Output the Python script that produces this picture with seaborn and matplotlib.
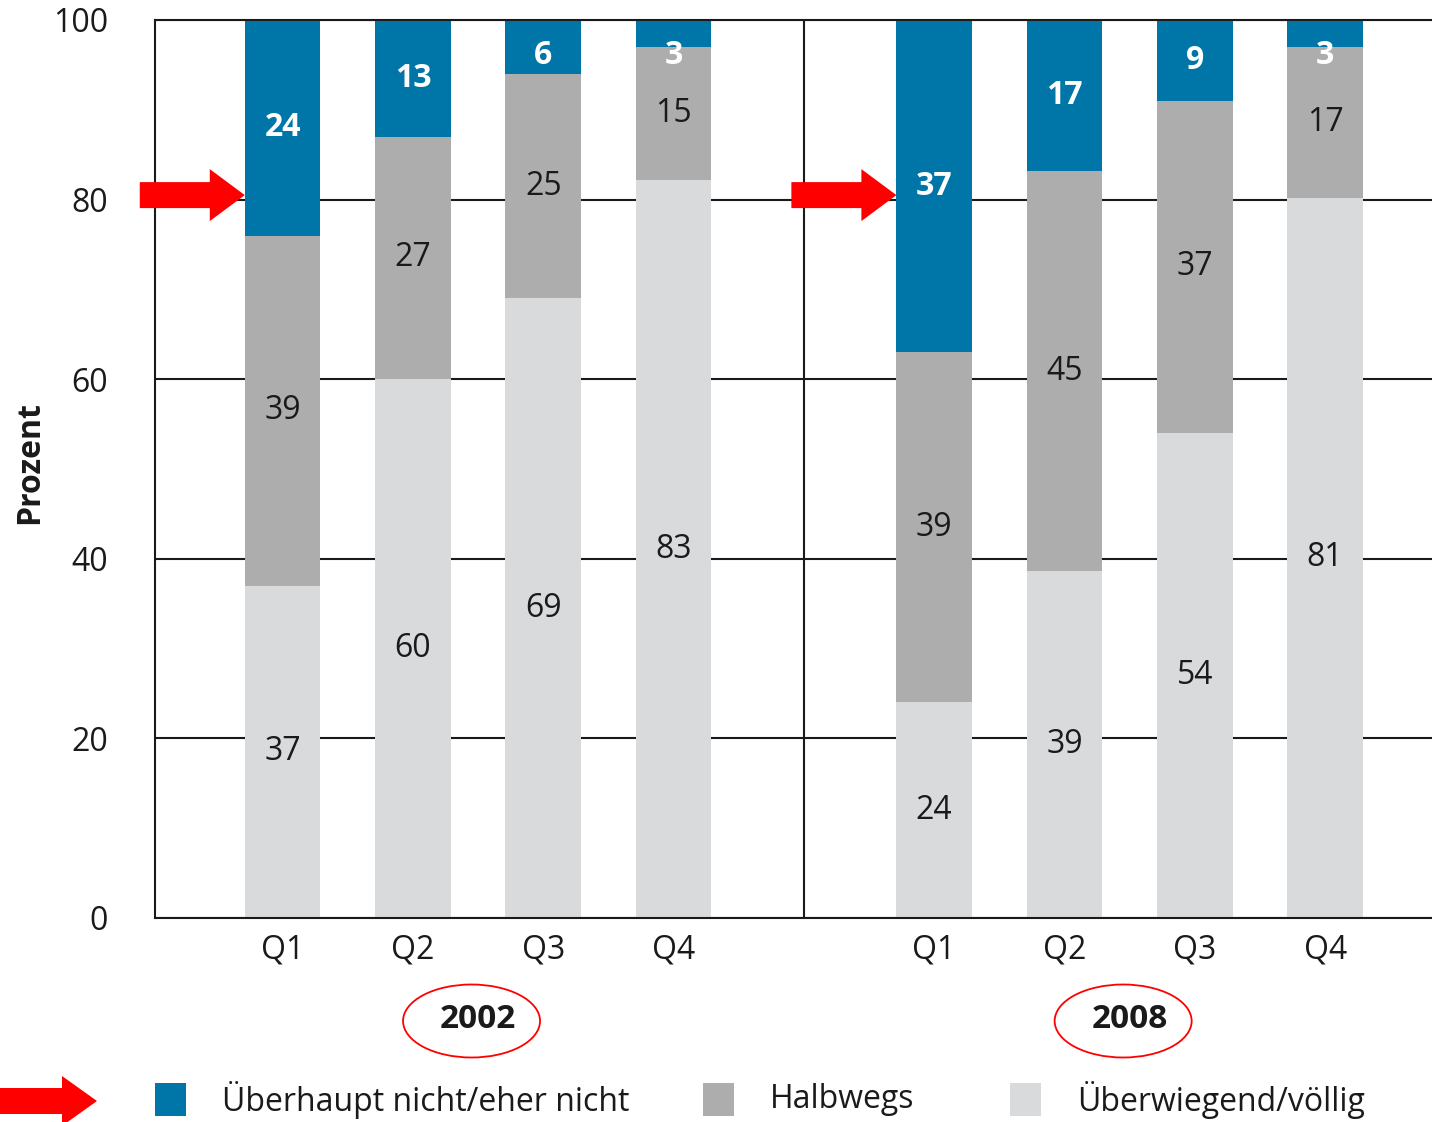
import numpy as np
import pandas as pd
import seaborn as sns
import matplotlib
matplotlib.use("Agg")
import matplotlib.pyplot as plt
from matplotlib.patches import Ellipse, FancyArrow, Rectangle
from matplotlib.transforms import blended_transform_factory

# ---------------- data ----------------
years = ["2002", "2008"]
quarters = ["Q1", "Q2", "Q3", "Q4"]
series_labels = ["Überhaupt nicht/eher nicht", "Halbwegs", "Überwiegend/völlig"]
nicht = [24, 13, 6, 3, 37, 17, 9, 3]          # Überhaupt nicht/eher nicht
halbwegs = [39, 27, 25, 15, 39, 45, 37, 17]   # Halbwegs
voellig = [37, 60, 69, 83, 24, 39, 54, 81]    # Überwiegend/völlig
y_ticks = [0, 20, 40, 60, 80, 100]
y_label = "Prozent"

# ---------------- style ----------------
sns.set_style("white")
plt.rcParams["font.family"] = ["Open Sans", "DejaVu Sans"]
TXT = "#1a1a1a"
BLUE = "#0076a8"
MID = "#adadad"
LIGHT = "#d9dadb"
RED = "#ff0000"
LW = 1.5

W, H = 1432, 1122
fig = plt.figure(figsize=(W / 100, H / 100), dpi=100)
ax = fig.add_axes([155 / W, 1 - 918 / H, 1 - 155 / W, (918 - 20) / H])

# positions: four quarters per year, one empty slot between years
n_q = len(quarters)
pos = [i + i // n_q for i in range(len(nicht))]
df = pd.DataFrame({"pos": pos, "v": voellig, "h": halbwegs, "n": nicht})
tot = df["v"] + df["h"] + df["n"]
# stacked shares, scaled to 100 % per bar (rounded values may sum to 101)
df["c1"] = df["v"] / tot * 100
df["c2"] = (df["v"] + df["h"]) / tot * 100
df["c3"] = (df["v"] + df["h"] + df["n"]) / tot * 100

bw = 0.58
for col, colr in [("c3", BLUE), ("c2", MID), ("c1", LIGHT)]:
    sns.barplot(data=df, x="pos", y=col, native_scale=True, color=colr,
                saturation=1, width=bw, errorbar=None, ax=ax,
                edgecolor="none", linewidth=0)

ax.set_xlim(-0.979, 8.82)
ax.set_ylim(0, 100)
ax.set_xlabel("")
ax.set_ylabel("")

# grid & spines
ax.set_axisbelow(True)
ax.yaxis.grid(True, color=TXT, lw=LW)
ax.xaxis.grid(False)
for s in ["left", "top", "bottom"]:
    ax.spines[s].set_visible(True)
    ax.spines[s].set_color(TXT)
    ax.spines[s].set_linewidth(LW)
ax.spines["right"].set_visible(False)

ax.set_yticks(y_ticks)
ax.set_yticklabels([str(t) for t in y_ticks])
ax.tick_params(axis="y", direction="out", length=25.2, width=LW, color=TXT,
               pad=8.6, labelsize=23, labelcolor=TXT)

# separator between the years
sep = n_q
ax.axvline(sep, color=TXT, lw=LW, zorder=0.5)

# major x ticks: downward marks at left axis and separator
ax.set_xticks([ax.get_xlim()[0], sep])
ax.set_xticklabels(["", ""])
ax.tick_params(axis="x", which="major", direction="out", length=23, width=LW,
               color=TXT)
# minor x ticks: quarter labels
ax.set_xticks(pos, minor=True)
ax.set_xticklabels(quarters * len(years), minor=True)
ax.tick_params(axis="x", which="minor", length=0, pad=10.8, labelsize=23,
               labelcolor=TXT)

# value labels
for i, p in enumerate(pos):
    c1, c2, c3 = df["c1"][i], df["c2"][i], df["c3"][i]
    segs = [(0, c1, voellig[i], TXT, "normal"),
            (c1, c2, halbwegs[i], TXT, "normal"),
            (c2, c3, nicht[i], "white", "bold")]
    for k, (lo, hi, val, tc, fw) in enumerate(segs):
        yc = (lo + hi) / 2
        if k == 2:
            yc = min(yc, 96)
        ax.text(p, yc, str(val), ha="center", va="center", fontsize=23,
                color=tc, fontweight=fw)

# red arrows pointing at Q1 bars (2002 and 2008)
for p in [pos[0], pos[n_q]]:
    tip = p - bw / 2
    L = 105 / 130.3
    ax.add_patch(FancyArrow(tip - L, 80.5, L, 0, width=26 / 8.98,
                            head_width=52 / 8.98, head_length=35 / 130.3,
                            length_includes_head=True, color=RED, lw=0,
                            clip_on=False, zorder=5))

# year labels with red ellipses
tr = blended_transform_factory(ax.transData, fig.transFigure)
for j, yr in enumerate(years):
    xc = np.mean(pos[j * n_q:(j + 1) * n_q])
    ax.text(xc, 1 - 1020 / H, yr, transform=tr, ha="center", va="center",
            fontsize=24, fontweight="bold", color=TXT)
    ax.add_patch(Ellipse((xc - 0.05, 1 - 1021 / H), 137 / 130.3, 73 / H,
                         transform=tr, fill=False, edgecolor=RED, lw=1.3,
                         clip_on=False))

# y label
fig.text(30 / W, 1 - 463 / H, y_label, rotation=90, ha="center", va="center",
         fontsize=23, fontweight="bold", color=TXT)

# legend (manual)
leg_colors = [BLUE, MID, LIGHT]
leg_x = [155, 703, 1010]
ly = 1100
for lab, c, x in zip(series_labels, leg_colors, leg_x):
    fig.add_artist(Rectangle((x / W, 1 - 1116 / H), 31 / W, 33 / H,
                             transform=fig.transFigure, color=c, lw=0))
    fig.text((x + 67) / W, 1 - ly / H, lab, ha="left", va="center",
             fontsize=23, color=TXT)

# red arrow next to legend
fig.add_artist(FancyArrow(0, 1 - 1101 / H, 97 / W, 0, width=26 / H,
                          head_width=50 / H, head_length=35 / W,
                          length_includes_head=True, color=RED, lw=0,
                          transform=fig.transFigure))

fig.savefig("out.png", dpi=100)
